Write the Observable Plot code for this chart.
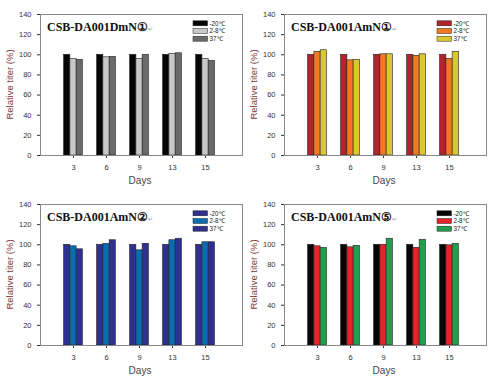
<!DOCTYPE html>
<html><head><meta charset="utf-8">
<script src="https://cdn.jsdelivr.net/npm/d3@7"></script>
<script src="https://cdn.jsdelivr.net/npm/@observablehq/plot@0.6"></script>
<style>
body{margin:0;background:#fff;}
#wrap{position:relative;width:488px;height:381px;background:#fff;}
.panel{position:absolute;}
</style></head><body><div id="wrap"></div>
<script>
const days = ["3","6","9","13","15"];
const series = ["-20℃","2-8℃","37℃"];
const titles = ["CSB-DA001DmN①","CSB-DA001AmN①","CSB-DA001AmN②","CSB-DA001AmN⑤"];

// Panel 1: CSB-DA001DmN①
const dmn1_m20 = [100,100,100,100,100];
const dmn1_28  = [96,97.5,96,101,96];
const dmn1_37  = [95,98,100,101.5,94];
// Panel 2: CSB-DA001AmN①
const amn1_m20 = [100,100,100,100,100];
const amn1_28  = [103,94.5,100.5,99,96];
const amn1_37  = [104.5,95,100.5,100.5,103];
// Panel 3: CSB-DA001AmN②
const amn2_m20 = [100,100,100,100,100];
const amn2_28  = [98.5,101,94.5,104.5,102.5];
const amn2_37  = [95.5,104.5,101,106,102.5];
// Panel 4: CSB-DA001AmN⑤
const amn5_m20 = [100,100,100,100,100];
const amn5_28  = [98.5,97.5,100,97,99.5];
const amn5_37  = [97,99,106,105,101];

const palettes = [
  ["#050505","#c8c8c8","#6a6a6a"],
  ["#b0242e","#f07a22","#d9c830"],
  ["#2e3190","#0b6cb0","#2e3190"],
  ["#050505","#e6222a","#1fa04c"]
];
const panelValues = [
  [dmn1_m20,dmn1_28,dmn1_37],
  [amn1_m20,amn1_28,amn1_37],
  [amn2_m20,amn2_28,amn2_37],
  [amn5_m20,amn5_28,amn5_37]
];
const positions = [[0,0],[244,0],[0,190],[244,190]];
const bw = 0.19;

const wrap = document.getElementById("wrap");
panelValues.forEach((vals, p) => {
  const rows = [];
  vals.forEach((arr, s) => arr.forEach((v, i) => rows.push({i: i + 1, s, v, name: series[s]})));
  const cols = palettes[p];
  const chart = Plot.plot({
    width: 244, height: 190,
    marginLeft: 40, marginRight: 2, marginTop: 14, marginBottom: 35,
    style: {fontFamily: "Liberation Sans, Arial, sans-serif", fontSize: "7.5px", color: "#333", background: "white"},
    x: {domain: [0, 6.12], ticks: [1,2,3,4,5], tickFormat: i => days[i-1], label: null, tickSize: 3},
    y: {domain: [0, 140], ticks: d3.range(0, 141, 20), label: null, tickSize: 3},
    color: {domain: series, range: cols},
    marks: [
      Plot.rectY(rows, {
        x1: d => d.i + (d.s - 1.5) * bw,
        x2: d => d.i + (d.s - 0.5) * bw,
        y1: 0, y2: "v",
        fill: "name", stroke: "#222", strokeWidth: 0.6
      }),
      Plot.frame({stroke: "#888"})
    ]
  });
  const div = document.createElement("div");
  div.className = "panel";
  div.style.left = positions[p][0] + "px";
  div.style.top = positions[p][1] + "px";
  div.appendChild(chart);
  wrap.appendChild(div);

  const svg = d3.select(chart);
  // title
  const t = svg.append("text").attr("x", 47).attr("y", 31).attr("text-anchor", "start")
    .attr("font-family", "Liberation Serif, Times New Roman, serif")
    .attr("font-weight", "bold").attr("font-size", 12).attr("fill", "#111");
  t.append("tspan").text(titles[p]);
  t.append("tspan").text("↵").attr("font-size", 6).attr("font-weight", "normal").attr("fill", "#999");
  // legend
  series.forEach((name, k) => {
    svg.append("rect").attr("x", 193).attr("y", 20.8 + k * 7.7).attr("width", 14.5).attr("height", 5)
      .attr("fill", cols[k]).attr("stroke", "#222").attr("stroke-width", 0.5);
    svg.append("text").attr("x", 209.5).attr("y", 25.6 + k * 7.7).attr("text-anchor", "start").text(name)
      .attr("font-size", 6.3).attr("fill", "#222").attr("font-family", "Liberation Sans, Arial, sans-serif");
  });
  // axis labels
  svg.append("text").attr("x", 140).attr("y", 184).attr("text-anchor", "middle")
    .attr("font-size", 10).attr("fill", "#444").attr("font-family", "Liberation Sans, Arial, sans-serif").text("Days");
  svg.append("text").attr("transform", "translate(13,84.5) rotate(-90)").attr("text-anchor", "middle")
    .attr("font-size", 9.5).attr("fill", "#7e3b36").attr("font-family", "Liberation Sans, Arial, sans-serif").text("Relative titer (%)");
});
</script></body></html>
